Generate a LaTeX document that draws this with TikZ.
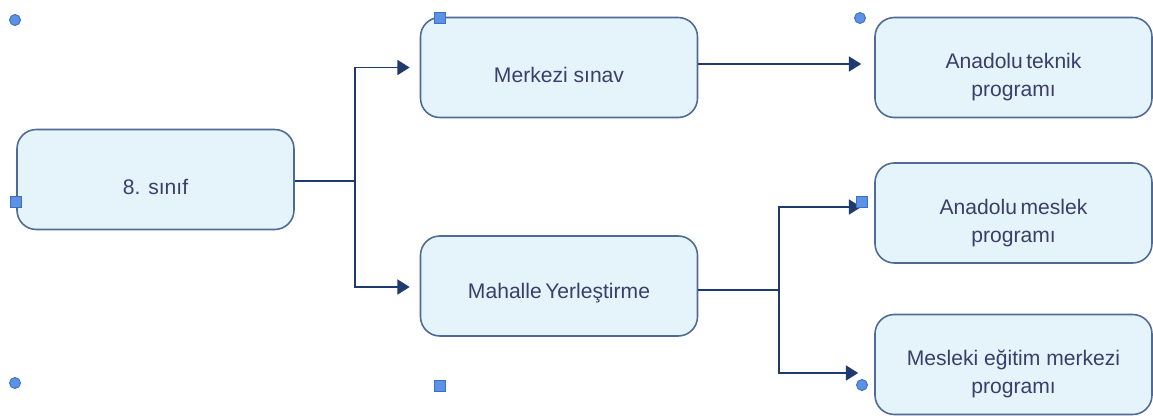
\documentclass[tikz,border=0pt]{standalone}
\usepackage{fontspec}
\setmainfont{Liberation Sans}
\usetikzlibrary{arrows.meta}
\definecolor{boxfill}{HTML}{E5F3FB}
\definecolor{boxdraw}{HTML}{4F6A94}
\definecolor{conn}{HTML}{1F3A6E}
\definecolor{txt}{HTML}{3A3F6A}
\definecolor{hfill}{HTML}{5B92E5}
\definecolor{hdraw}{HTML}{3C6FBF}
\newlength{\pxu}
\setlength{\pxu}{0.02cm}
\newcommand{\tstrut}{\rule{0pt}{20pt}}
\newcommand{\sstrut}{\rule{0pt}{17pt}}
\tikzset{
  box/.style={draw=boxdraw, fill=boxfill, line width=0.9pt, rounded corners=11pt,
    minimum width=277\pxu, minimum height=100\pxu, align=center, text=txt,
    font=\fontsize{12pt}{16pt}\selectfont, inner sep=0pt},
  conn/.style={draw=conn, line width=1.1pt},
  arr/.style={conn, -{Triangle[length=7pt,width=8.5pt]}},
  hcirc/.style={circle, fill=hfill, draw=hdraw, line width=0.5pt, minimum size=11\pxu, inner sep=0pt},
  hsq/.style={rectangle, fill=hfill, draw=hdraw, line width=0.5pt, minimum size=11\pxu, inner sep=0pt},
}
\begin{document}
\begin{tikzpicture}[x=0.02cm,y=-0.02cm]
\useasboundingbox (0,0) rectangle (1153,419);
\node[box] (a) at (155.5,179.5) {\sstrut 8. sınıf};
\node[box] (b) at (559,67.5) {\sstrut Merkezi sınav};
\node[box] (c) at (559,286) {\sstrut Mahalle\,Yerleştirme};
\node[box] (d) at (1013.5,67.5) {\tstrut Anadolu\,teknik\\programı};
\node[box] (e) at (1013.5,213) {\tstrut Anadolu\,meslek\\programı};
\node[box] (f) at (1013.5,364.5) {\tstrut Mesleki eğitim merkezi\\programı};
\coordinate (j1) at (355,181);
\coordinate (j2) at (779,290);
\draw[conn] (a.east |- j1) -- (j1);
\draw[arr] (j1) |- ([xshift=-10\pxu]b.west);
\draw[arr] (j1) |- ([xshift=-10\pxu,yshift=-1\pxu]c.west);
\draw[arr] ([yshift=3.5\pxu]b.east) -- ([xshift=-13\pxu,yshift=3.5\pxu]d.west);
\draw[conn] ([yshift=-4\pxu]c.east) -- (j2);
\draw[arr] (j2) |- ([xshift=-13\pxu,yshift=6\pxu]e.west);
\draw[arr] (j2) |- ([xshift=-16\pxu,yshift=-8.5\pxu]f.west);
\node[hcirc] (h1) at (15,20) {};
\node[hcirc] (h2) at (15,383) {};
\node[hcirc] (h3) at (860,18) {};
\node[hcirc] (h4) at (862,385) {};
\node[hsq] (s1) at (440,18) {};
\node[hsq] (s2) at (16,202) {};
\node[hsq] (s3) at (440,386) {};
\node[hsq] (s4) at (862,202) {};
\end{tikzpicture}
\end{document}
